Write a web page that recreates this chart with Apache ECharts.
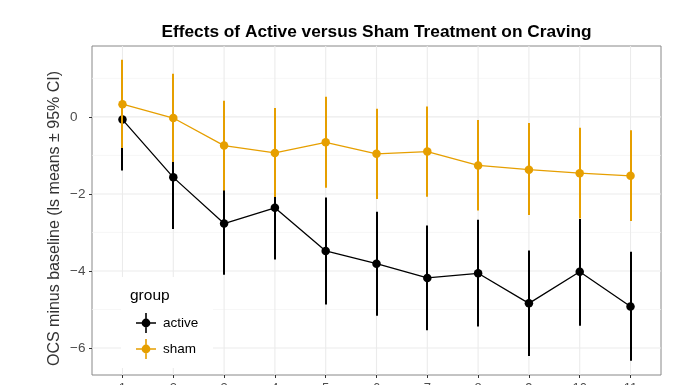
<!DOCTYPE html>
<html>
<head>
<meta charset="utf-8">
<script src="https://cdn.jsdelivr.net/npm/echarts@6/dist/echarts.min.js"></script>
<style>
html,body{margin:0;padding:0;background:#fff;}
#chart{width:696px;height:385px;}
</style>
</head>
<body>
<div id="chart"></div>
<script>
// ---- data ----
const visits = [1, 2, 3, 4, 5, 6, 7, 8, 9, 10, 11];
const activeMean = [-0.07, -1.57, -2.77, -2.36, -3.48, -3.81, -4.18, -4.06, -4.84, -4.02, -4.92];
const activeLow  = [-1.39, -2.91, -4.10, -3.70, -4.87, -5.16, -5.54, -5.44, -6.21, -5.42, -6.33];
const activeHigh = [1.26, -0.23, -1.44, -1.02, -2.09, -2.46, -2.82, -2.67, -3.47, -2.65, -3.50];
const shamMean = [0.33, -0.03, -0.745, -0.935, -0.66, -0.96, -0.90, -1.26, -1.37, -1.46, -1.53];
const shamLow  = [-0.81, -1.17, -1.91, -2.08, -1.84, -2.13, -2.07, -2.43, -2.55, -2.64, -2.70];
const shamHigh = [1.48, 1.12, 0.42, 0.23, 0.52, 0.21, 0.27, -0.08, -0.16, -0.28, -0.35];
const yMajorTicks = [-6, -4, -2, 0];
const yMinorTicks = [-5, -3, -1, 1];
const groupNames = ['active', 'sham'];

const ACTIVE = '#000000';
const SHAM = '#E69F00';
const FONT = '"Liberation Sans", Arial, Helvetica, sans-serif';

const chart = echarts.init(document.getElementById('chart'), null, {renderer: 'canvas'});

function fmt(v) { return v < 0 ? '\u2212' + Math.abs(v) : String(v); }

function errorBars(name, lo, hi, color, z) {
  return {
    type: 'custom', name: name + '_ci', z: z, silent: true,
    data: visits.map((x, i) => [x, lo[i], hi[i]]),
    encode: {x: 0, y: 1},
    renderItem: (params, api) => {
      const a = api.coord([api.value(0), api.value(1)]);
      const b = api.coord([api.value(0), api.value(2)]);
      const x = Math.round(a[0]);
      return {type: 'line', shape: {x1: x, y1: a[1], x2: x, y2: b[1]},
              style: {stroke: color, lineWidth: 2}};
    }
  };
}

const legendIcon = 'path://M0 9.2h20v1.6h-20z M9.2 0h1.6v20h-1.6z M10 5.6a4.4 4.4 0 1 1 0 8.8a4.4 4.4 0 1 1 0 -8.8z';

const option = {
  backgroundColor: '#ffffff',
  animation: false,
  title: {
    text: 'Effects of Active versus Sham Treatment on Craving',
    left: 371.5, top: 19, textAlign: 'center',
    textStyle: {fontFamily: FONT, fontSize: 17.3, fontWeight: 'bold', color: '#000'}
  },
  grid: {left: 92, right: 35, top: 46, bottom: 10, show: true, outerBoundsMode: 'none',
         containLabel: false,
         borderColor: '#888888', borderWidth: 1, backgroundColor: 'transparent'},
  xAxis: {
    type: 'value', min: 0.4, max: 11.6, position: 'bottom',
    axisLine: {show: false, onZero: false},
    splitLine: {show: false},
    axisTick: {show: true, length: 3, customValues: visits, lineStyle: {color: '#333', width: 1}},
    axisLabel: {customValues: visits, margin: 7, color: '#4d4d4d', fontFamily: FONT, fontSize: 13}
  },
  yAxis: {
    type: 'value', min: -6.7, max: 1.84, position: 'left',
    name: 'OCS minus baseline (ls means \u00b1 95% CI)',
    nameLocation: 'middle', nameGap: 29, nameRotate: 90, nameMoveOverlap: false,
    nameTextStyle: {fontFamily: FONT, fontSize: 16, color: '#333', padding: [0, 16, 0, 0]},
    axisLine: {show: false, onZero: false},
    splitLine: {show: false},
    axisTick: {show: true, length: 3, customValues: yMajorTicks, lineStyle: {color: '#333', width: 1}},
    axisLabel: {customValues: yMajorTicks, margin: 22, align: 'left', color: '#4d4d4d',
                fontFamily: FONT, fontSize: 13.5, formatter: fmt}
  },
  legend: {
    data: groupNames.map(n => ({name: n, icon: legendIcon})),
    orient: 'vertical', left: 131, top: 308, itemWidth: 20, itemHeight: 20, itemGap: 6,
    selectedMode: false,
    textStyle: {fontFamily: FONT, fontSize: 13.5, color: '#000', padding: [0, 0, 0, 2]}
  },
  graphic: [
    {type: 'rect', z: 1, shape: {x: 121, y: 277, width: 92, height: 91}, style: {fill: '#fff'}},
    {type: 'text', z: 2, left: 130, top: 288, style: {text: 'group', fontFamily: FONT, fontSize: 15.5, fill: '#000'}}
  ],
  series: [
    {
      type: 'custom', name: 'grid', z: 0, silent: true,
      data: yMajorTicks.map(v => [1, v, 1]).concat(yMinorTicks.map(v => [1, v, 0])),
      encode: {x: 0, y: 1},
      renderItem: (params, api) => {
        const cs = params.coordSys;
        const y = api.coord([1, api.value(1)])[1];
        const major = api.value(2) === 1;
        return {type: 'line', shape: {x1: cs.x, y1: y, x2: cs.x + cs.width, y2: y},
                style: {stroke: major ? '#ebebeb' : '#f4f4f4', lineWidth: major ? 1.1 : 0.7}};
      }
    },
    {
      type: 'custom', name: 'vgrid', z: 0, silent: true,
      data: visits.map(v => [v, 0]),
      encode: {x: 0, y: 1},
      renderItem: (params, api) => {
        const cs = params.coordSys;
        const x = api.coord([api.value(0), 0])[0];
        return {type: 'line', shape: {x1: x, y1: cs.y, x2: x, y2: cs.y + cs.height},
                style: {stroke: '#ebebeb', lineWidth: 1.1}};
      }
    },
    errorBars('active', activeLow, activeHigh, ACTIVE, 3),
    {
      type: 'line', name: 'active', z: 4, color: ACTIVE,
      data: visits.map((x, i) => [x, activeMean[i]]),
      symbol: 'circle', symbolSize: 8.5, showSymbol: true,
      itemStyle: {color: ACTIVE},
      lineStyle: {color: ACTIVE, width: 1.3}
    },
    errorBars('sham', shamLow, shamHigh, SHAM, 5),
    {
      type: 'line', name: 'sham', z: 6, color: SHAM,
      data: visits.map((x, i) => [x, shamMean[i]]),
      symbol: 'circle', symbolSize: 8.5, showSymbol: true,
      itemStyle: {color: SHAM},
      lineStyle: {color: SHAM, width: 1.3}
    }
  ]
};
chart.setOption(option);
</script>
</body>
</html>
